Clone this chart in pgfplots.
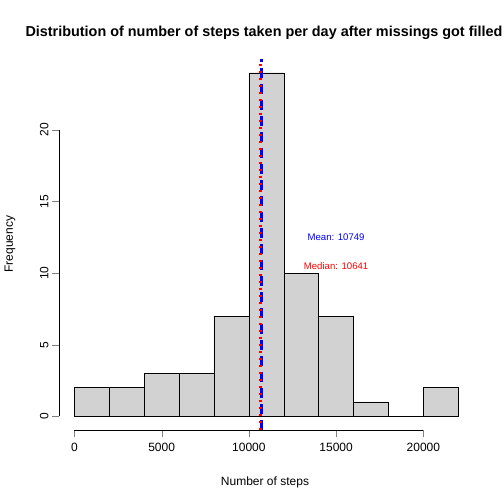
\documentclass[border=0pt]{standalone}
\usepackage{pgfplots}
\pgfplotsset{compat=1.18}
\usepackage{fontspec}
\setmainfont{Liberation Sans}
\begin{document}
\begin{tikzpicture}[x=1pt,y=1pt]
\path[use as bounding box] (-59,-74) rectangle (445,430);
\begin{axis}[at={(0,0)},anchor=south west,scale only axis,width=414.6pt,height=371pt,
 xmin=-880,xmax=22880,ymin=-0.96,ymax=24.96,clip=false,
 axis line style={draw=none},tick align=outside,major tick length=7pt,
 xtick={0,5000,10000,15000,20000},ytick={0,5,10,15,20},
 xtick pos=bottom,ytick pos=left,
 scaled x ticks=false,
 /pgf/number format/assume math mode=true,
 xticklabel={\pgfmathprintnumber[fixed,1000 sep={}]{\tick}},
 yticklabel style={rotate=90,anchor=south,font=\fontsize{12}{12}\selectfont},
 xticklabel style={font=\fontsize{12}{12}\selectfont,yshift=-3pt},
 ]
\addplot[ybar interval,fill=lightgray!70,draw=black] coordinates {
(0,2)(2000,2)(4000,3)(6000,3)(8000,7)(10000,24)(12000,10)(14000,7)(16000,1)(18000,0)(20000,2)(22000,2)};
\draw (axis cs:0,-0.96)--(axis cs:20000,-0.96);
\draw (axis cs:-880,0)--(axis cs:-880,20);
\draw[blue,line width=3pt,dash pattern=on 10pt off 6pt] (axis cs:10749,-0.96)--(axis cs:10749,24.96);
\draw[red,line width=3pt,dash pattern=on 2pt off 5pt] (axis cs:10641,-0.96)--(axis cs:10641,24.96);
\node[blue,font=\fontsize{9.6}{10}\selectfont] at (axis cs:15000,12.5) {Mean: 10749};
\node[red,font=\fontsize{9.6}{10}\selectfont] at (axis cs:15000,10.5) {Median: 10641};
\end{axis}
\node[font=\bfseries\fontsize{14.4}{15}\selectfont,anchor=west] at (-37,397) {Distribution of number of steps taken per day after missings got filled};
\node[font=\fontsize{12}{12}\selectfont] at (206,-52) {Number of steps};
\node[font=\fontsize{12}{12}\selectfont,rotate=90] at (-49,186) {Frequency};
\end{tikzpicture}
\end{document}
